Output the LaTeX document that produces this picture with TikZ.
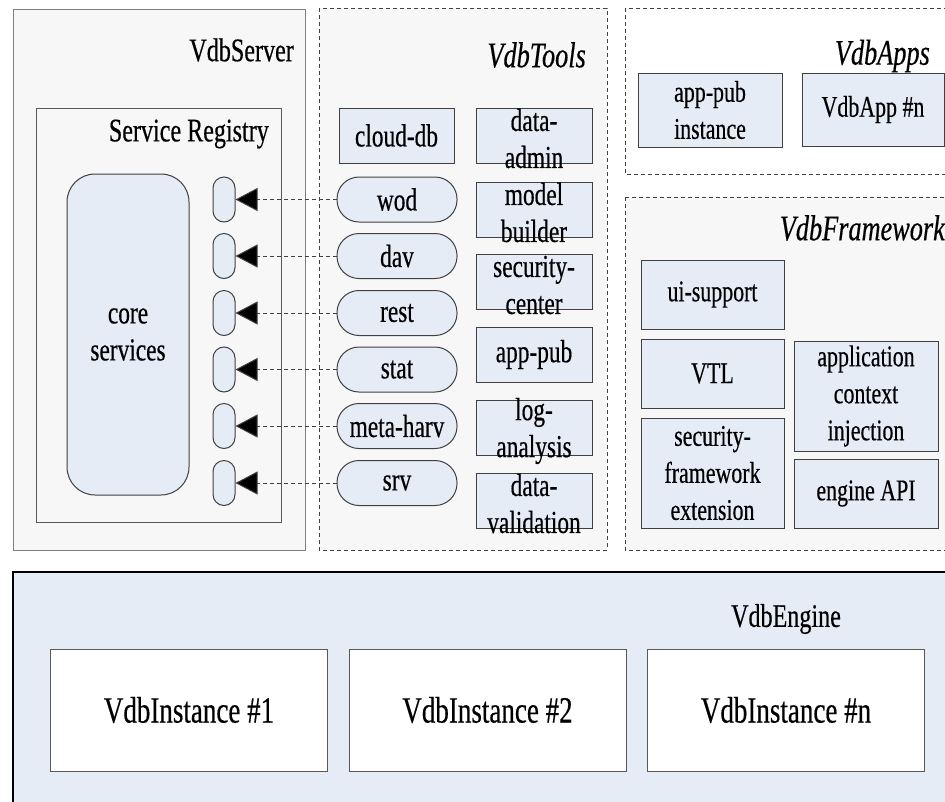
\documentclass[tikz,border=0pt]{standalone}
\usepackage{fontspec}
\setmainfont{Liberation Serif}[FakeStretch=0.73, FakeBold=0.4]
\usetikzlibrary{arrows.meta}

\definecolor{boxfill}{HTML}{E6ECF6}
\definecolor{panelfill}{HTML}{F7F7F7}
\definecolor{edge}{HTML}{404040}
\definecolor{graybd}{HTML}{808080}
\definecolor{instbd}{HTML}{595959}

\newcommand\szTitle{\fontsize{33}{39}\selectfont}
\newcommand\szItal{\fontsize{36}{42}\selectfont\itshape}
\newcommand\szTool{\fontsize{32}{37}\selectfont}
\newcommand\szBox{\fontsize{30}{37}\selectfont}
\newcommand\szInst{\fontsize{37}{44}\selectfont}

\tikzset{
  solidpanel/.style={draw=graybd, fill=panelfill, line width=1pt},
  dashpanel/.style={draw=edge, dash pattern=on 4pt off 3pt, line width=0.9pt},
  title/.style={inner sep=0pt, font=\szTitle},
  ititle/.style={inner sep=0pt, font=\szItal},
  bluebox/.style={draw=edge, fill=boxfill, line width=1pt, inner sep=0pt,
    align=center, font=\szBox},
  toolbox/.style={bluebox, minimum width=116pt, minimum height=55pt},
  boxtext/.style={inner sep=0pt, align=center, font=\szTool, yshift=-3pt},
  toolpill/.style={bluebox, font=\szTool, minimum width=120pt, minimum height=45pt,
    rounded corners=22pt},
  regpill/.style={bluebox, minimum width=22pt, minimum height=45pt,
    rounded corners=11pt},
  instbox/.style={draw=instbd, fill=white, line width=1pt, inner sep=0pt,
    minimum width=277pt, minimum height=122pt, font=\szInst},
  conn/.style={draw=edge, line width=1pt, dash pattern=on 4pt off 3pt,
    -{Triangle[length=22pt, width=23pt, fill=black]}},
}

\begin{document}
\begin{tikzpicture}[x=1pt, y=-1pt]
  \useasboundingbox (0,0) rectangle (945,801);
  \clip (0,0) rectangle (945,801);

  % ---------------- VdbServer ----------------
  \path[solidpanel] (13,9) rectangle (305,550);
  \node[title, anchor=east] (srvtitle) at (294,50) {VdbServer};
  \path[solidpanel, draw=instbd] (36,108) rectangle (281,522);
  \node[title, anchor=east] (regtitle) at (269,134) {Service Registry};
  \node[bluebox, minimum width=122pt, minimum height=321pt, rounded corners=28pt,
        font=\szTool] (core) at (128,334.5) {core\\services};

  \foreach \i/\y in {1/199.5, 2/256, 3/313, 4/369.5, 5/426, 6/483}
    \node[regpill] (p\i) at (224,\y) {};

  % ---------------- VdbTools ----------------
  \path[dashpanel, fill=panelfill] (319,8) rectangle (607,550);
  \node[ititle, anchor=east] (tooltitle) at (586,55) {VdbTools};

  \node[bluebox, font=\szTool, minimum width=115pt, minimum height=55pt]
        (clouddb) at (396.5,135.5) {cloud-db};
  \node[toolpill] (wod)  at (397,199.5) {wod};
  \node[toolpill] (dav)  at (397,256)   {dav};
  \node[toolpill] (rest) at (397,313)   {rest};
  \node[toolpill] (stat) at (397,369.5) {stat};
  \node[toolpill] (harv) at (397,426)   {meta-harv};
  \node[toolpill] (srv)  at (397,483)   {srv};

  \node[toolbox] (dadmin) at (534,135.5) {};
  \node[boxtext] (dadmin-t) at (dadmin) {data-\\admin};
  \node[toolbox] (mbuild) at (534,209.5) {};
  \node[boxtext] (mbuild-t) at (mbuild) {model\\builder};
  \node[toolbox] (seccen) at (534,282) {};
  \node[boxtext] (seccen-t) at (seccen) {security-\\center};
  \node[toolbox, font=\szTool] (apppub) at (534,354.5) {app-pub};
  \node[toolbox] (loga) at (534,428) {};
  \node[boxtext] (loga-t) at (loga) {log-\\analysis};
  \node[toolbox] (dval) at (534,500.5) {};
  \node[boxtext] (dval-t) at (dval) {data-\\validation};

  % registrations of the tool services
  \foreach \s/\i in {wod/1, dav/2, rest/3, stat/4, harv/5, srv/6}
    \draw[conn] (\s.west) -- (p\i.east);

  % ---------------- VdbApps ----------------
  \path[dashpanel, fill=white] (625,8) rectangle (960,174);
  \node[ititle, anchor=east] (apptitle) at (930,56) {VdbApps};
  \node[bluebox, minimum width=144pt, minimum height=74pt] (pubinst) at (710,110)
        {app-pub\\instance};
  \node[bluebox, minimum width=142pt, minimum height=73pt] (appn) at (873,109.5)
        {VdbApp \#n};

  % ---------------- VdbFramework ----------------
  \path[dashpanel, fill=panelfill] (625,197) rectangle (960,550);
  \node[ititle, anchor=east] (fwtitle) at (945,228) {VdbFramework};
  \node[bluebox, minimum width=143pt, minimum height=69pt] (uisup) at (712.5,294.5)
        {ui-support};
  \node[bluebox, minimum width=143pt, minimum height=69pt] (vtl) at (712.5,373.5)
        {VTL};
  \node[bluebox, minimum width=143pt, minimum height=110pt] (secfw) at (712.5,473)
        {security-\\framework\\extension};
  \node[bluebox, minimum width=144pt, minimum height=110pt] (appctx) at (866,396)
        {application\\context\\injection};
  \node[bluebox, minimum width=144pt, minimum height=69pt] (engapi) at (866,493.5)
        {engine API};

  % ---------------- VdbEngine ----------------
  \path[draw=black, fill=boxfill, line width=1.2pt] (13,572) rectangle (980,840);
  \node[title] (engtitle) at (786,619) {VdbEngine};
  \node[instbox] (inst1) at (189,710) {VdbInstance \#1};
  \node[instbox] (inst2) at (487.5,710) {VdbInstance \#2};
  \node[instbox] (instn) at (786,710) {VdbInstance \#n};
\end{tikzpicture}
\end{document}
